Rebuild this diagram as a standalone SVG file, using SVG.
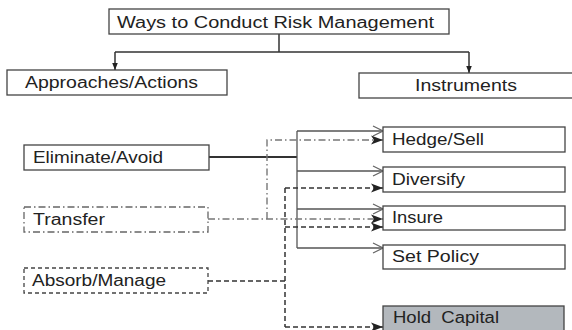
<svg xmlns="http://www.w3.org/2000/svg" width="572" height="330" viewBox="0 0 572 330">
<defs>
<marker id="down" viewBox="0 0 10 10" refX="10" refY="5" markerWidth="7" markerHeight="7" orient="auto" markerUnits="userSpaceOnUse">
<path d="M0,1 L10,5 L0,9 Z" fill="#222"/>
</marker>
<marker id="open" viewBox="0 0 12 12" refX="11" refY="6" markerWidth="12" markerHeight="12" orient="auto" markerUnits="userSpaceOnUse">
<path d="M1,1 L11,6 L1,11" fill="none" stroke="#666" stroke-width="1.2"/>
</marker>
<marker id="fill" viewBox="0 0 12 12" refX="12" refY="6" markerWidth="12" markerHeight="12" orient="auto" markerUnits="userSpaceOnUse">
<path d="M0,1.5 L12,6 L0,10.5 L3,6 Z" fill="#222"/>
</marker>
</defs>
<style>
text{font-family:"Liberation Sans",Arial,sans-serif;font-size:16px;fill:#222}
.box{fill:#fff;stroke:#444;stroke-width:1.3}
.dd{fill:#fff;stroke:#666;stroke-width:1.3;stroke-dasharray:7,3,1.5,3}
.da{fill:#fff;stroke:#444;stroke-width:1.3;stroke-dasharray:4,3}
.cap{fill:#b3b8bd;stroke:#444;stroke-width:1.3}
.sol{fill:none;stroke:#333;stroke-width:1.5}
.br{fill:none;stroke:#555;stroke-width:1.3}
.ddl{fill:none;stroke:#777;stroke-width:1.4;stroke-dasharray:7,3,1.5,3}
.dal{fill:none;stroke:#333;stroke-width:1.5;stroke-dasharray:5,3}
</style>
<g id="connectors">
<path class="sol" d="M279,34 V52 M115,52 H469"/>
<path class="sol" d="M115,52 V70" marker-end="url(#down)"/>
<path class="sol" d="M469,52 V73" marker-end="url(#down)"/>
<path fill="none" stroke="#333" stroke-width="2" d="M209,157 H297"/>
<path class="br" d="M297,131 V248"/>
<path class="br" d="M297,131 H383" marker-end="url(#open)"/>
<path class="br" d="M297,171 H383" marker-end="url(#open)"/>
<path class="br" d="M297,209 H383" marker-end="url(#open)"/>
<path class="br" d="M297,248 H383" marker-end="url(#open)"/>
<path class="ddl" d="M208,219 H383" marker-end="url(#fill)"/>
<path class="ddl" d="M267,219 V140 H383" marker-end="url(#fill)"/>
<path class="dal" d="M208,281 H285 M285,188 V327"/>
<path class="dal" d="M285,188 H383" marker-end="url(#fill)"/>
<path class="dal" d="M285,227 H383" marker-end="url(#fill)"/>
<path class="dal" d="M285,327 H383" marker-end="url(#fill)"/>
</g>
<g id="root"><rect class="box" x="109" y="9" width="340" height="25"/><text x="117" y="28" textLength="317" lengthAdjust="spacingAndGlyphs">Ways to Conduct Risk Management</text></g>
<g id="approaches"><rect class="box" x="7" y="70" width="220" height="25"/><text x="25" y="88" textLength="173" lengthAdjust="spacingAndGlyphs">Approaches/Actions</text></g>
<g id="instruments"><rect class="box" x="359" y="73" width="230" height="25"/><text x="415" y="91" textLength="102" lengthAdjust="spacingAndGlyphs">Instruments</text></g>
<g id="eliminate"><rect class="box" x="24" y="145" width="185" height="25"/><text x="33" y="163" textLength="130" lengthAdjust="spacingAndGlyphs">Eliminate/Avoid</text></g>
<g id="transfer"><rect class="dd" x="24" y="207" width="184" height="25"/><text x="33" y="225" textLength="72" lengthAdjust="spacingAndGlyphs">Transfer</text></g>
<g id="absorb"><rect class="da" x="24" y="268" width="184" height="25"/><text x="32" y="286" textLength="134" lengthAdjust="spacingAndGlyphs">Absorb/Manage</text></g>
<g id="hedge"><rect class="box" x="383" y="127" width="182" height="25"/><text x="392" y="145" textLength="92" lengthAdjust="spacingAndGlyphs">Hedge/Sell</text></g>
<g id="diversify"><rect class="box" x="383" y="167" width="182" height="25"/><text x="392" y="185" textLength="73" lengthAdjust="spacingAndGlyphs">Diversify</text></g>
<g id="insure"><rect class="box" x="383" y="206" width="182" height="24"/><text x="392" y="223" textLength="51" lengthAdjust="spacingAndGlyphs">Insure</text></g>
<g id="setpolicy"><rect class="box" x="383" y="245" width="182" height="24"/><text x="392" y="262" textLength="87" lengthAdjust="spacingAndGlyphs">Set Policy</text></g>
<g id="holdcapital"><rect class="cap" x="383" y="306" width="181" height="30"/><text x="393" y="323" textLength="106" lengthAdjust="spacingAndGlyphs" xml:space="preserve">Hold  Capital</text></g>
</svg>
